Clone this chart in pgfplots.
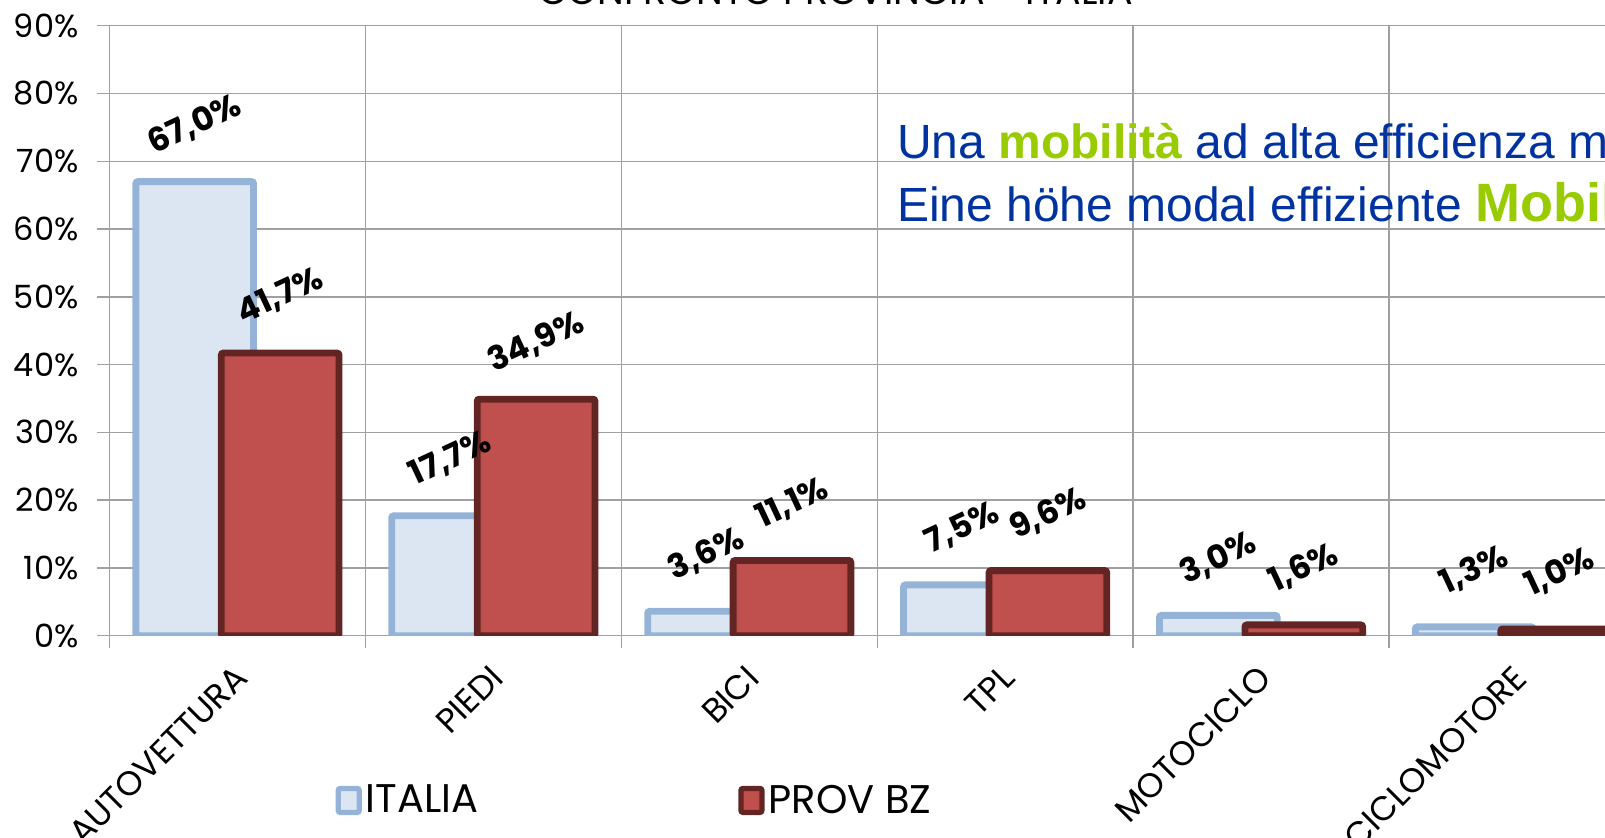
\documentclass[border=0pt]{standalone}
\usepackage{pgfplots}
\pgfplotsset{compat=1.18}
\usepackage{fontspec}
\setmainfont{Poppins}
\newfontfamily\arialf{Liberation Sans}
\definecolor{itfill}{HTML}{DCE6F2}
\definecolor{itdraw}{HTML}{95B3D7}
\definecolor{bzfill}{HTML}{C0504D}
\definecolor{bzdraw}{HTML}{632523}
\definecolor{gridc}{HTML}{A0A0A0}
\definecolor{txtblue}{HTML}{0033A0}
\definecolor{txtgreen}{HTML}{99CC00}
\begin{document}
\begin{tikzpicture}
\clip (-54.75pt,-100.65pt) rectangle (747.75pt,317.85pt);
\path[use as bounding box] (-54.75pt,-100.65pt) rectangle (747.75pt,317.85pt);
\begin{axis}[
  at={(0pt,0pt)}, anchor=south west,
  scale only axis, width=767.7pt, height=305pt,
  xmin=-0.5, xmax=5.5, ymin=0, ymax=90,
  ytick={0,10,...,90},
  yticklabel={\pgfmathprintnumber{\tick}\%},
  /pgf/number format/assume math mode=true,
  xtick={0,1,2,3,4,5},
  xticklabels={AUTOVETTURA,PIEDI,BICI,TPL,MOTOCICLO,CICLOMOTORE},
  minor xtick={-0.5,0.5,1.5,2.5,3.5,4.5,5.5},
  major x tick style={draw=none},
  xminorgrids=true, ymajorgrids=true,
  grid style={gridc, line width=0.7pt},
  minor grid style={gridc, line width=0.7pt},
  axis line style={gridc, line width=0.7pt},
  tick style={gridc, line width=0.7pt},
  tick align=outside, major tick length=6pt, minor tick length=6pt,
  axis x line*=bottom, axis y line*=left,
  yticklabel style={font=\fontsize{16}{18}\selectfont, xshift=-6pt},
  xticklabel style={font=\fontsize{17}{19}\selectfont, xshift=-2.5pt, yshift=-3pt, rotate=45, anchor=north east},
  ybar, bar width=0.46,
  nodes near coords={\pgfmathprintnumber[fixed,fixed zerofill,precision=1,use comma]{\pgfplotspointmeta}\%},
  nodes near coords style={font=\bfseries\fontsize{16.5}{18}\selectfont, text=black, anchor=center, yshift=28.5pt, rotate=25},
  legend style={draw=none, fill=none, at={(0.147,-0.27)}, anchor=west, inner sep=0pt,
    legend columns=2, font=\fontsize{20}{22}\selectfont,
    /tikz/every even column/.append style={column sep=128pt}},
  legend image code/.code={\draw[#1, line width=2.6pt, rounded corners=1pt] (0pt,-6pt) rectangle (10.5pt,6pt);},
  legend cell align=left,
]
\addplot[fill=itfill, draw=itdraw, line width=3.4pt, rounded corners=1pt, bar shift=-0.167] coordinates {(0,67.0) (1,17.7) (2,3.6) (3,7.5) (4,3.0) (5,1.3)};
\addplot[fill=bzfill, draw=bzdraw, line width=3.4pt, rounded corners=1pt, bar shift=0.167] coordinates {(0,41.7) (1,34.9) (2,11.1) (3,9.6) (4,1.6) (5,1.0)};
\legend{ITALIA,PROV BZ}
\end{axis}
\node[anchor=base, inner sep=0pt, font=\fontsize{19}{20}\selectfont] at (363pt,315.7pt) {CONFRONTO PROVINCIA - ITALIA};
\node[anchor=base west, inner sep=0pt, font=\arialf\fontsize{24}{26}\selectfont, text=txtblue] at (393.6pt,238.5pt) {Una {\bfseries\color{txtgreen}mobilità} ad alta efficienza modale};
\node[anchor=base west, inner sep=0pt, font=\arialf\fontsize{24}{26}\selectfont, text=txtblue] at (393.6pt,207.3pt) {Eine höhe modal effiziente {\bfseries\fontsize{27}{30}\selectfont\color{txtgreen}Mobilität}};
\end{tikzpicture}
\end{document}
